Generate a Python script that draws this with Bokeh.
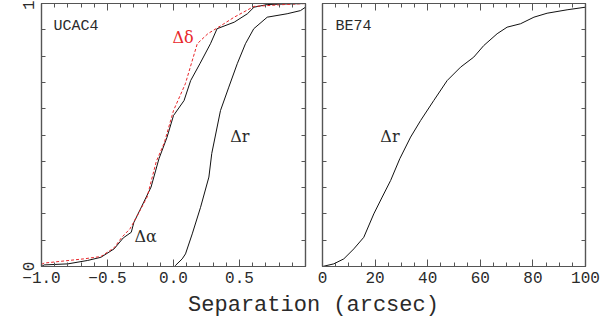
import math
from bokeh.plotting import figure
from bokeh.models import LinearAxis, FixedTicker, Label, Range1d
from bokeh.layouts import row, column
from bokeh.embed import file_html
from bokeh.resources import INLINE

# ---------------- data ----------------
dalpha_x = [-1.0, -0.98, -0.80, -0.65, -0.55, -0.45, -0.38, -0.32, -0.30, -0.25, -0.17, -0.11,
            -0.05, 0.00, 0.08, 0.13, 0.20, 0.28, 0.33, 0.46, 0.56, 0.61, 0.71, 0.85, 1.0]
dalpha_y = [0.0, 0.006, 0.010, 0.023, 0.035, 0.067, 0.109, 0.130, 0.168, 0.219, 0.302, 0.41,
            0.49, 0.574, 0.631, 0.707, 0.771, 0.847, 0.904, 0.929, 0.961, 0.986, 0.996, 0.998, 1.0]

ddelta_x = [-1.0, -0.98, -0.68, -0.55, -0.45, -0.39, -0.33, -0.28, -0.20, -0.13, -0.07, 0.00,
            0.09, 0.18, 0.26, 0.36, 0.46, 0.61, 0.84, 1.0]
ddelta_y = [0.008, 0.013, 0.029, 0.038, 0.071, 0.112, 0.143, 0.188, 0.264, 0.40, 0.47, 0.593,
            0.695, 0.847, 0.885, 0.916, 0.948, 0.989, 0.996, 1.0]

dr_x = [0.01, 0.015, 0.066, 0.091, 0.142, 0.205, 0.268, 0.29, 0.356, 0.419, 0.483, 0.545,
        0.608, 0.71, 0.861, 0.962, 1.0]
dr_y = [0.0, 0.004, 0.029, 0.048, 0.124, 0.225, 0.340, 0.43, 0.593, 0.682, 0.771, 0.847,
        0.904, 0.948, 0.961, 0.973, 0.986]

be74_x = [0, 4.3, 8.1, 11.9, 15.7, 19.5, 22.7, 25.9, 29.4, 33.5, 37.3, 42.3, 47.4, 52.5,
          57.5, 61.3, 66.4, 70.2, 75.3, 80.4, 85.4, 93.0, 100]
be74_y = [0.0, 0.010, 0.029, 0.067, 0.111, 0.200, 0.264, 0.327, 0.41, 0.492, 0.555, 0.631,
          0.707, 0.758, 0.796, 0.840, 0.885, 0.910, 0.923, 0.948, 0.963, 0.976, 0.986]

left_xticks = [-1.0, -0.5, 0.0, 0.5]
left_xlabels = ["\u22121.0", "\u22120.5", "0.0", "0.5"]
right_xticks = [0, 20, 40, 60, 80, 100]
right_xlabels = ["0", "20", "40", "60", "80", "100"]
yticks = [0, 1]
ylabels = ["0", "1"]

AX = "#555555"
TXT = "#2a2a2a"
MONO = "Liberation Mono"
SERIF = "DejaVu Serif"


def style_axis(ax, ticks, minor, labels=None, vertical=False):
    ax.ticker = FixedTicker(ticks=ticks, minor_ticks=minor)
    ax.major_tick_in = 7
    ax.major_tick_out = 0
    ax.minor_tick_in = 4
    ax.minor_tick_out = 0
    ax.axis_line_color = AX
    ax.axis_line_width = 1.2
    ax.major_tick_line_color = AX
    ax.minor_tick_line_color = AX
    ax.axis_label = None
    if labels is None:
        ax.major_label_text_font_size = "0px"
        ax.major_label_text_color = None
        ax.major_label_standoff = 0
    else:
        ax.major_label_overrides = {t: l for t, l in zip(ticks, labels)}
        ax.major_label_text_font = MONO
        ax.major_label_text_font_size = "16px"
        ax.major_label_text_color = TXT
        ax.major_label_standoff = 8 if vertical else 5
        if vertical:
            ax.major_label_orientation = "vertical"


def make_panel(xr, width, bl, br, xt, xminor, xlabels, ylab):
    p = figure(width=width, height=290, x_range=xr, y_range=Range1d(0, 1),
               output_backend="svg", toolbar_location=None,
               x_axis_type=None, y_axis_type=None,
               min_border_left=bl, min_border_right=br,
               min_border_top=3, min_border_bottom=24)
    p.outline_line_color = AX
    p.outline_line_width = 1.2
    p.grid.visible = False
    p.background_fill_color = "white"
    p.border_fill_color = "white"
    yminor = [i / 10 for i in range(11)]
    xb = LinearAxis(); style_axis(xb, xt, xminor, xlabels); p.add_layout(xb, "below")
    xa = LinearAxis(); style_axis(xa, xt, xminor, None); p.add_layout(xa, "above")
    yl = LinearAxis(); style_axis(yl, yticks, yminor, ylabels if ylab else None, vertical=True)
    p.add_layout(yl, "left")
    yr = LinearAxis(); style_axis(yr, yticks, yminor, None); p.add_layout(yr, "right")
    return p


p1 = make_panel(Range1d(-1, 1), 313, 41, 8, left_xticks,
                [round(-1 + i / 10, 2) for i in range(21)], left_xlabels, True)
p2 = make_panel(Range1d(0, 100), 287, 9, 15, right_xticks,
                [5 * i for i in range(21)], right_xlabels, False)

p1.line(dalpha_x, dalpha_y, line_color="#111111", line_width=1)
p1.line(ddelta_x, ddelta_y, line_color="#e8262a", line_width=1, line_dash="3 2")
p1.line(dr_x, dr_y, line_color="#111111", line_width=1)
p2.line(be74_x, be74_y, line_color="#111111", line_width=1)

p1.add_layout(Label(x=-0.91, y=0.913, text="UCAC4", text_font=MONO, text_font_size="15px",
                    text_color=TXT, text_baseline="middle"))
p1.add_layout(Label(x=-0.008, y=0.871, text="\u0394\u03b4", text_font=SERIF,
                    text_font_size="16px", text_color="#e8262a", text_baseline="middle"))
p1.add_layout(Label(x=0.43, y=0.494, text="\u0394r", text_font=SERIF, text_font_size="16px",
                    text_color=TXT, text_baseline="middle"))
p1.add_layout(Label(x=-0.295, y=0.114, text="\u0394\u03b1", text_font=SERIF,
                    text_font_size="16px", text_color=TXT, text_baseline="middle"))
p1.add_layout(Label(x=-1.212, y=0.498, text="N/N(tot)", text_font=MONO, text_font_size="19px",
                    text_color=TXT, angle=math.pi / 2, text_align="center",
                    text_baseline="middle"))

p2.add_layout(Label(x=4.9, y=0.913, text="BE74", text_font=MONO, text_font_size="15px",
                    text_color=TXT, text_baseline="middle"))
p2.add_layout(Label(x=22.0, y=0.494, text="\u0394r", text_font=SERIF, text_font_size="16px",
                    text_color=TXT, text_baseline="middle"))

# bottom strip carrying the shared x-axis title
p3 = figure(width=600, height=28, x_range=Range1d(0, 600), y_range=Range1d(0, 28),
            output_backend="svg", toolbar_location=None, x_axis_type=None, y_axis_type=None,
            min_border=0)
p3.outline_line_color = None
p3.grid.visible = False
p3.add_layout(Label(x=313, y=13, text="Separation (arcsec)", text_font=MONO,
                    text_font_size="22px", text_color=TXT, text_align="center",
                    text_baseline="middle"))

layout = column(row(p1, p2), p3)
open("out.html", "w").write(file_html(layout, INLINE))
